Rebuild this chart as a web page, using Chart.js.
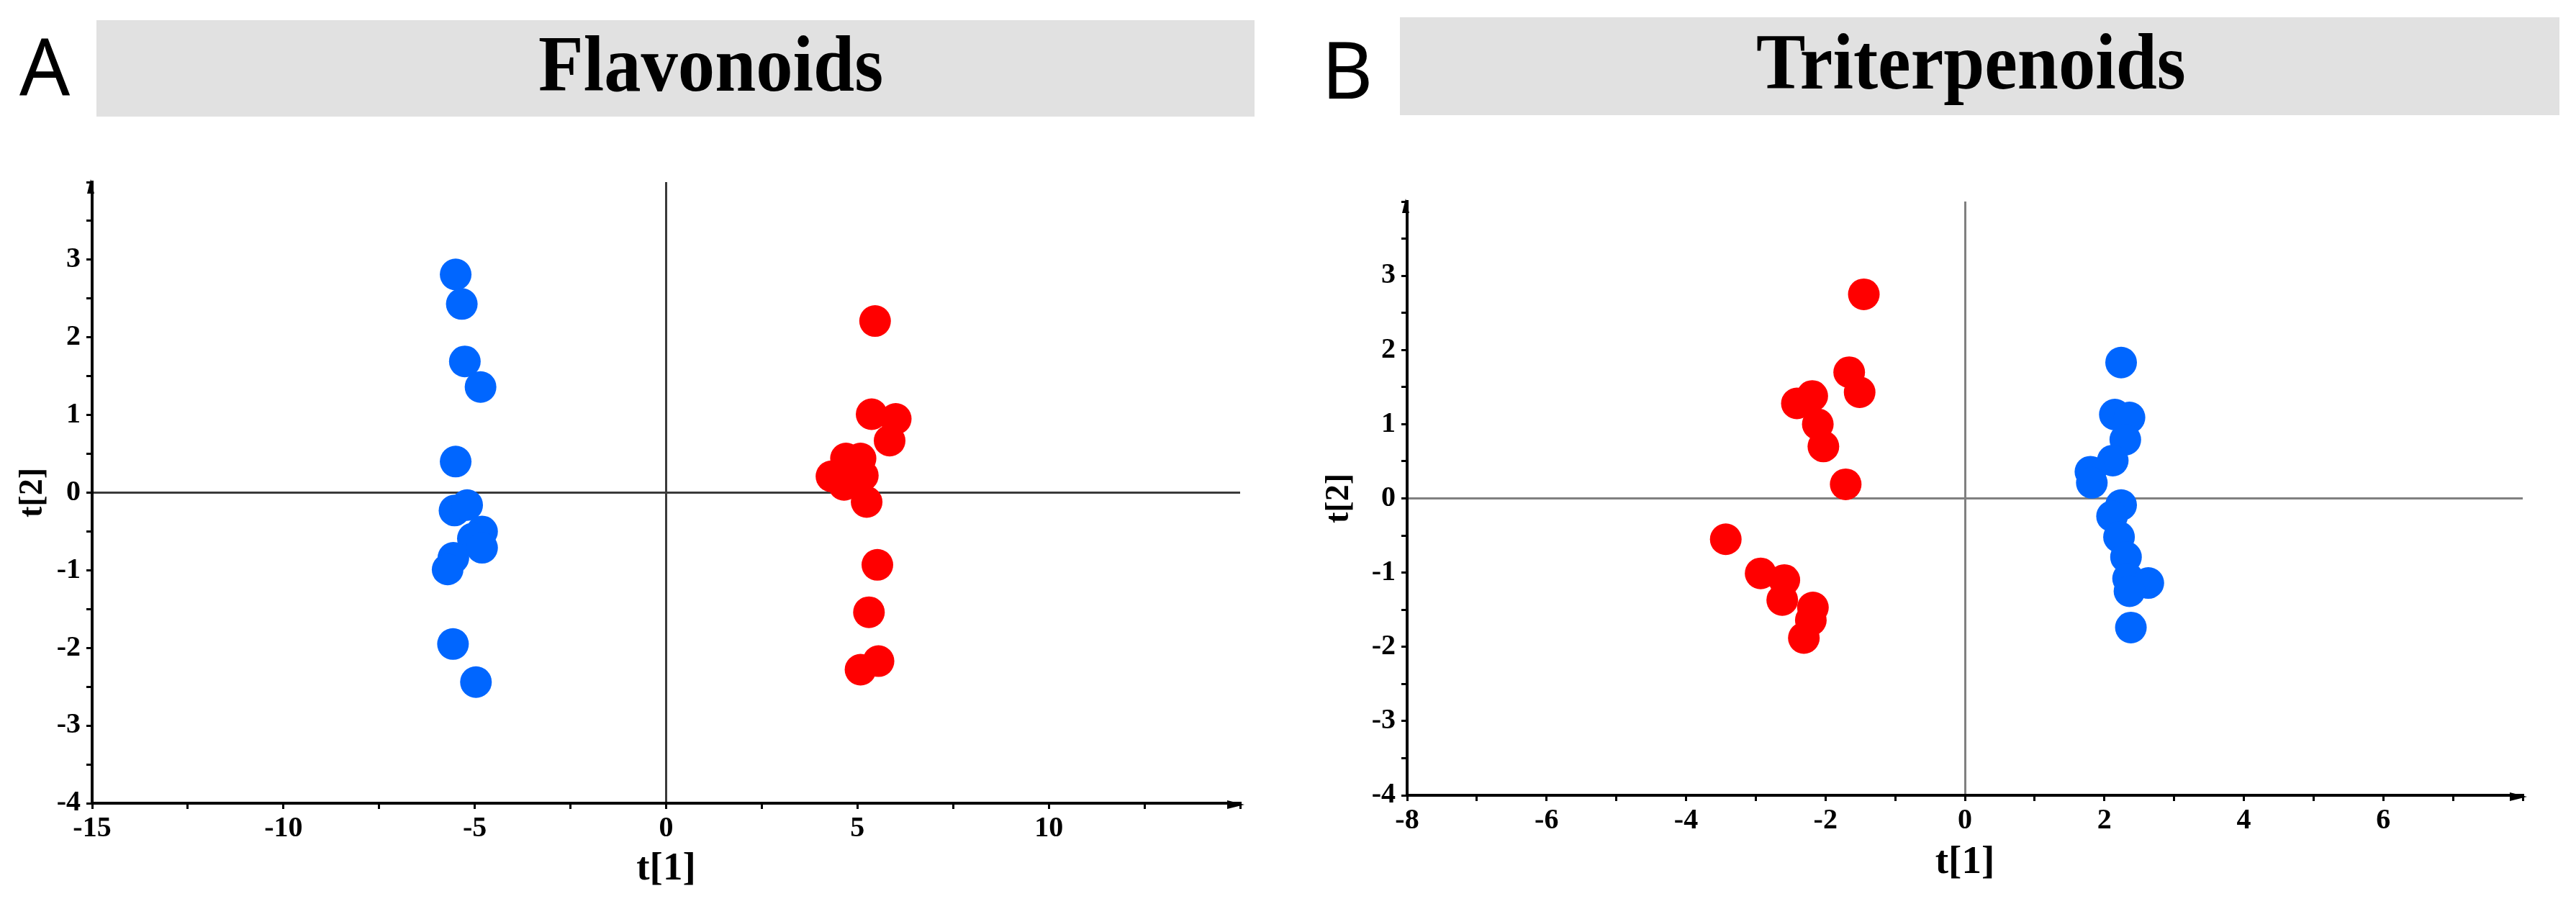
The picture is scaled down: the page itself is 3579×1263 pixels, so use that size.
<!DOCTYPE html>
<html>
<head>
<meta charset="utf-8">
<title>Flavonoids / Triterpenoids score plots</title>
<script src="https://cdn.jsdelivr.net/npm/chart.js@4.4.1/dist/chart.umd.min.js"></script>
<style>
  html, body { margin: 0; padding: 0; background: #fff; }
  body { position: relative; width: 3579px; height: 1263px; overflow: hidden; }
  .letter { position: absolute; font-family: "Noto Sans", sans-serif; font-size: 110px; line-height: 1; color: #000; }
  .header { position: absolute; background: #e1e1e1; }
  .header-title {
    position: absolute; white-space: nowrap; line-height: 1; color: #000;
    font-family: "Liberation Serif", "Times New Roman", serif; font-weight: bold; font-size: 110px;
    transform-origin: left top; transform: scaleX(0.933);
  }
  canvas { position: absolute; }
</style>
</head>
<body>

<div class="letter" style="left:27px; top:34px;">A</div>
<div class="header" style="left:134px; top:28px; width:1609px; height:134px;"></div>
<div class="header-title" style="left:748px; top:34px;">Flavonoids</div>

<div class="letter" style="left:1836px; top:39px;">B</div>
<div class="header" style="left:1945px; top:24px; width:1611px; height:136px;"></div>
<div class="header-title" style="left:2440px; top:31px;">Triterpenoids</div>

<canvas id="chartA" width="1790" height="1063" style="left:0; top:200px;"></canvas>
<canvas id="chartB" width="1789" height="1063" style="left:1790px; top:200px;"></canvas>

<script>
// ---- Flavonoids (panel A) scores ----
const flavBlueX = [-5.50, -5.34, -5.26, -4.85, -5.50, -5.53, -5.20, -4.81, -5.05, -4.81, -5.56, -5.71, -5.57, -4.97];
const flavBlueY = [2.81, 2.43, 1.69, 1.36, 0.40, -0.23, -0.16, -0.50, -0.59, -0.71, -0.84, -0.99, -1.95, -2.44];
const flavRedX = [5.46, 5.37, 6.00, 5.84, 4.70, 5.08, 4.32, 4.65, 5.14, 5.24, 5.52, 5.30, 5.55, 5.08];
const flavRedY = [2.21, 1.01, 0.95, 0.67, 0.44, 0.44, 0.21, 0.10, 0.22, -0.12, -0.93, -1.54, -2.17, -2.28];

// ---- Triterpenoids (panel B) scores ----
const triRedX = [-1.45, -1.66, -1.51, -2.19, -2.41, -2.11, -2.03, -1.71, -3.43, -2.93, -2.59, -2.62, -2.18, -2.21, -2.31];
const triRedY = [2.75, 1.70, 1.43, 1.38, 1.28, 1.00, 0.70, 0.19, -0.55, -1.01, -1.10, -1.37, -1.47, -1.64, -1.88];
const triBlueX = [2.24, 2.15, 2.36, 2.30, 2.12, 1.80, 1.82, 2.24, 2.11, 2.21, 2.31, 2.34, 2.63, 2.36, 2.38];
const triBlueY = [1.83, 1.13, 1.09, 0.79, 0.51, 0.36, 0.21, -0.09, -0.24, -0.52, -0.79, -1.08, -1.14, -1.25, -1.74];

// ---- tick labels ----
const flavXTickLabels = [-15, -10, -5, 0, 5, 10];
const triXTickLabels = [-8, -6, -4, -2, 0, 2, 4, 6];
const yTickLabels = [-4, -3, -2, -1, 0, 1, 2, 3];

const BLUE = '#0066ff';
const RED = '#ff0000';

const toPoints = (xs, ys) => xs.map((x, i) => ({ x: x, y: ys[i] }));

// arrowheads at the ends of both axes
const axisArrows = {
  id: 'axisArrows',
  afterDraw(chart) {
    const ctx = chart.ctx;
    const xAxisY = chart.scales.x.top + 2;
    const yAxisX = chart.scales.y.right - 2;
    const right = chart.chartArea.right;
    const top = chart.chartArea.top;
    ctx.save();
    ctx.fillStyle = '#000';
    ctx.beginPath();
    ctx.moveTo(right + 6, xAxisY);
    ctx.lineTo(right - 18, xAxisY - 6);
    ctx.lineTo(right - 18, xAxisY + 6);
    ctx.closePath();
    ctx.fill();
    ctx.beginPath();
    ctx.moveTo(yAxisX, top - 4);
    ctx.lineTo(yAxisX - 5, top + 16);
    ctx.lineTo(yAxisX + 5, top + 16);
    ctx.closePath();
    ctx.fill();
    ctx.restore();
  }
};

const tickFont = { family: 'Liberation Serif', size: 40, weight: 'bold' };

function buildChart(canvasId, opt) {
  const zeroLine = ctx => (ctx.tick && ctx.tick.value === 0) ? opt.zeroColor : 'rgba(0,0,0,0)';
  return new Chart(document.getElementById(canvasId), {
    type: 'scatter',
    data: {
      datasets: opt.datasets.map(d => ({
        data: d.points,
        backgroundColor: d.color,
        borderWidth: 0,
        pointRadius: 22,
        pointHoverRadius: 22
      }))
    },
    options: {
      responsive: false,
      animation: false,
      layout: { padding: opt.padding },
      plugins: { legend: { display: false }, tooltip: { enabled: false } },
      scales: {
        x: {
          type: 'linear',
          min: opt.xMin,
          max: opt.xMax,
          afterFit: s => { s.height = opt.xAxisHeight; },
          ticks: {
            stepSize: opt.xStep,
            autoSkip: false,
            maxRotation: 0,
            padding: 4,
            color: '#000',
            font: tickFont,
            callback: v => opt.xLabels.includes(v) ? String(v) : ''
          },
          grid: { color: zeroLine, lineWidth: 3, tickLength: 8, tickColor: '#000', tickWidth: 3 },
          border: { display: true, color: '#000', width: 4 },
          title: {
            display: true, text: 't[1]', color: '#000',
            font: { family: 'Liberation Serif', size: 55, weight: 'bold' },
            padding: { top: 0, bottom: opt.xTitlePad }
          }
        },
        y: {
          type: 'linear',
          min: -4,
          max: 4,
          afterFit: s => { s.width = opt.yAxisWidth; },
          ticks: {
            stepSize: 0.5,
            autoSkip: false,
            padding: 8,
            color: '#000',
            font: tickFont,
            callback: v => yTickLabels.includes(v) ? String(v) : ''
          },
          grid: { color: zeroLine, lineWidth: 3, tickLength: 8, tickColor: '#000', tickWidth: 3 },
          border: { display: true, color: '#000', width: 4 },
          title: {
            display: true, text: 't[2]', color: '#000',
            font: { family: 'Liberation Serif', size: 46, weight: 'bold' },
            padding: { top: opt.yTitlePad, bottom: 0 }
          }
        }
      }
    },
    plugins: [axisArrows]
  });
}

buildChart('chartA', {
  datasets: [
    { points: toPoints(flavBlueX, flavBlueY), color: BLUE },
    { points: toPoints(flavRedX, flavRedY), color: RED }
  ],
  xMin: -15, xMax: 15, xStep: 2.5, xLabels: flavXTickLabels,
  zeroColor: '#3a3a3a',
  padding: { left: 0, right: 67, top: 53, bottom: 0 },
  yAxisWidth: 128, xAxisHeight: 147,
  xTitlePad: 22, yTitlePad: 19
});

buildChart('chartB', {
  datasets: [
    { points: toPoints(triRedX, triRedY), color: RED },
    { points: toPoints(triBlueX, triBlueY), color: BLUE }
  ],
  xMin: -8, xMax: 8, xStep: 1, xLabels: triXTickLabels,
  zeroColor: '#808080',
  padding: { left: 0, right: 74, top: 80, bottom: 0 },
  yAxisWidth: 165, xAxisHeight: 158,
  xTitlePad: 31, yTitlePad: 44
});
</script>
</body>
</html>
